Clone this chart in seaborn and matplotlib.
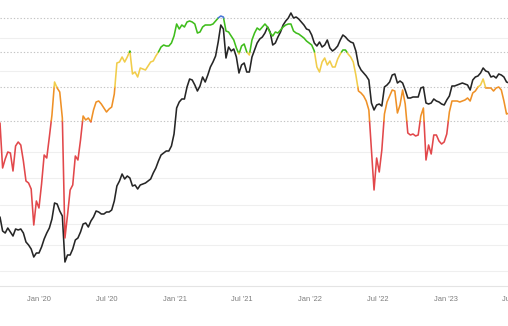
import numpy as np
import pandas as pd
import matplotlib
matplotlib.use("Agg")
import matplotlib.pyplot as plt
import matplotlib.dates as mdates
import seaborn as sns

# Weekly observations
start = "2019-09-18"

# Price series (relative scale)
price = [
    69, 55, 53, 58, 54, 50, 57, 56, 57, 53,
    44, 41, 37, 29, 33, 33, 39, 47, 53, 58,
    67, 83, 82, 75, 70, 24, 31, 31, 37, 46,
    48, 54, 62, 63, 59, 65, 69, 75, 74, 72,
    72, 74, 74, 76, 85, 100, 105, 112, 107, 110,
    108, 100, 101, 97, 101, 102, 103, 105, 107, 113,
    118, 125, 131, 133, 135, 135, 140, 152, 178, 184,
    187, 187, 199, 207, 206, 201, 195, 200, 209, 204,
    211, 219, 224, 230, 244, 261, 257, 228, 239, 235,
    237, 229, 213, 221, 223, 214, 214, 229, 236, 243,
    247, 249, 253, 259, 254, 241, 243, 249, 254, 261,
    265, 268, 273, 268, 269, 267, 264, 261, 257, 256,
    251, 243, 240, 244, 239, 241, 246, 238, 235, 237,
    240, 246, 251, 249, 246, 244, 243, 235, 221, 216,
    213, 210, 206, 183, 176, 181, 182, 180, 199, 201,
    204, 211, 212, 203, 205, 203, 196, 188, 188, 189,
    189, 189, 198, 199, 183, 182, 183, 187, 185, 184,
    182, 181, 186, 190, 200, 200, 201, 202, 203, 202,
    201, 196, 206, 209, 210, 213, 218, 215, 214, 209,
    210, 208, 212, 211, 209, 204, 203,
]

# Sentiment score, coloured by band
score = [
    163, 118, 127, 134, 133, 115, 140, 144, 141, 125,
    105, 103, 97, 61, 85, 78, 102, 131, 128, 149,
    171, 204, 198, 194, 168, 48, 71, 96, 101, 130,
    126, 146, 170, 166, 168, 164, 176, 184, 185, 182,
    178, 174, 177, 179, 192, 223, 224, 229, 224, 229,
    235, 212, 214, 209, 218, 217, 216, 220, 224, 225,
    230, 234, 239, 241, 240, 240, 243, 250, 262, 257,
    261, 259, 264, 265, 264, 262, 253, 254, 259, 261,
    261, 261, 262, 265, 268, 270, 269, 255, 254, 250,
    246, 238, 232, 240, 242, 234, 231, 246, 253, 258,
    256, 259, 262, 259, 253, 250, 254, 253, 256, 259,
    261, 262, 262, 255, 253, 252, 250, 248, 245, 243,
    241, 235, 219, 214, 224, 228, 221, 225, 219, 219,
    227, 232, 236, 236, 232, 229, 224, 211, 195, 193,
    190, 185, 176, 136, 96, 128, 114, 136, 172, 184,
    190, 196, 195, 173, 181, 196, 182, 153, 151, 152,
    150, 151, 170, 178, 126, 141, 132, 151, 151, 145,
    142, 144, 152, 174, 185, 185, 185, 184, 185, 186,
    188, 185, 193, 195, 199, 201, 207, 198, 198, 198,
    195, 198, 199, 196, 185, 172, 173,
]

band_edges = [165, 199, 234, 268]
band_names = ["Extreme fear", "Fear", "Neutral", "Greed", "Extreme greed"]
band_colors = ["#e2484b", "#ef9127", "#f1cd4b", "#3fbd1c", "#4a78d8"]
price_grid = [15, 41, 62, 81, 108, 134, 215, 248]
tick_dates = ["2020-01-01", "2020-07-01", "2021-01-01", "2021-07-01",
              "2022-01-01", "2022-07-01", "2023-01-01", "2023-07-01"]

dates = pd.date_range(start, periods=len(price), freq="7D")
t = mdates.date2num(dates.to_pydatetime())

# Split the score line into runs of constant band, cutting at band edges
def band_of(v):
    return int(np.searchsorted(band_edges, v, side="right"))

rows = []
run = 0
cur = None
for k in range(len(t) - 1):
    t0, t1 = t[k], t[k + 1]
    v0, v1 = score[k], score[k + 1]
    cuts = [0.0, 1.0]
    for e in band_edges:
        if (v0 - e) * (v1 - e) < 0:
            cuts.append((e - v0) / (v1 - v0))
    cuts.sort()
    for a, b in zip(cuts[:-1], cuts[1:]):
        ta, va = t0 + a * (t1 - t0), v0 + a * (v1 - v0)
        tb, vb = t0 + b * (t1 - t0), v0 + b * (v1 - v0)
        bnd = band_of((va + vb) / 2)
        if bnd != cur:
            run += 1
            cur = bnd
            rows.append((run, band_names[bnd], ta, va))
        rows.append((run, band_names[bnd], tb, vb))
seg = pd.DataFrame(rows, columns=["run", "band", "x", "score"])

sns.set_theme(style="white")
plt.rcParams["font.family"] = ["Liberation Sans", "DejaVu Sans"]

W, H = 508, 326
fig = plt.figure(figsize=(W / 100, H / 100), dpi=100)
px_per_day = W / 1369.0
view_days = 530 / px_per_day
ax = fig.add_axes([0, 40 / H, 530 / W, 286 / H])

sns.lineplot(x=t, y=price, color="#262626", lw=1.15, ax=ax, estimator=None, sort=False)
sns.lineplot(data=seg, x="x", y="score", hue="band", units="run", estimator=None,
             sort=False, palette=dict(zip(band_names, band_colors)), legend=False,
             lw=1.15, ax=ax)

x0 = t[0]
ax.set_xlim(x0, x0 + view_days)
ax.set_ylim(0, 286)

ax.set_yticks(band_edges)
ax.set_yticks(price_grid, minor=True)
ax.yaxis.grid(True, which="major", linestyle=(0, (1.2, 1.8)), color="#c4c4c4", lw=0.8)
ax.yaxis.grid(True, which="minor", linestyle="-", color="#efefef", lw=0.8)
ax.xaxis.grid(False)
ax.set_axisbelow(True)
ax.tick_params(axis="y", which="both", left=False, labelleft=False, length=0)

ax.set_xticks(mdates.date2num(pd.to_datetime(tick_dates).to_pydatetime()))
ax.xaxis.set_major_formatter(mdates.DateFormatter("%b '%y"))
ax.tick_params(axis="x", length=0, pad=7, labelsize=5.4, labelcolor="#7d7d7d")
ax.set_xlabel("")
ax.set_ylabel("")

for side in ["top", "left", "right"]:
    ax.spines[side].set_visible(False)
ax.spines["bottom"].set_color("#e4e4e4")
ax.spines["bottom"].set_linewidth(0.8)

fig.savefig("out.png", dpi=100, facecolor="white")
